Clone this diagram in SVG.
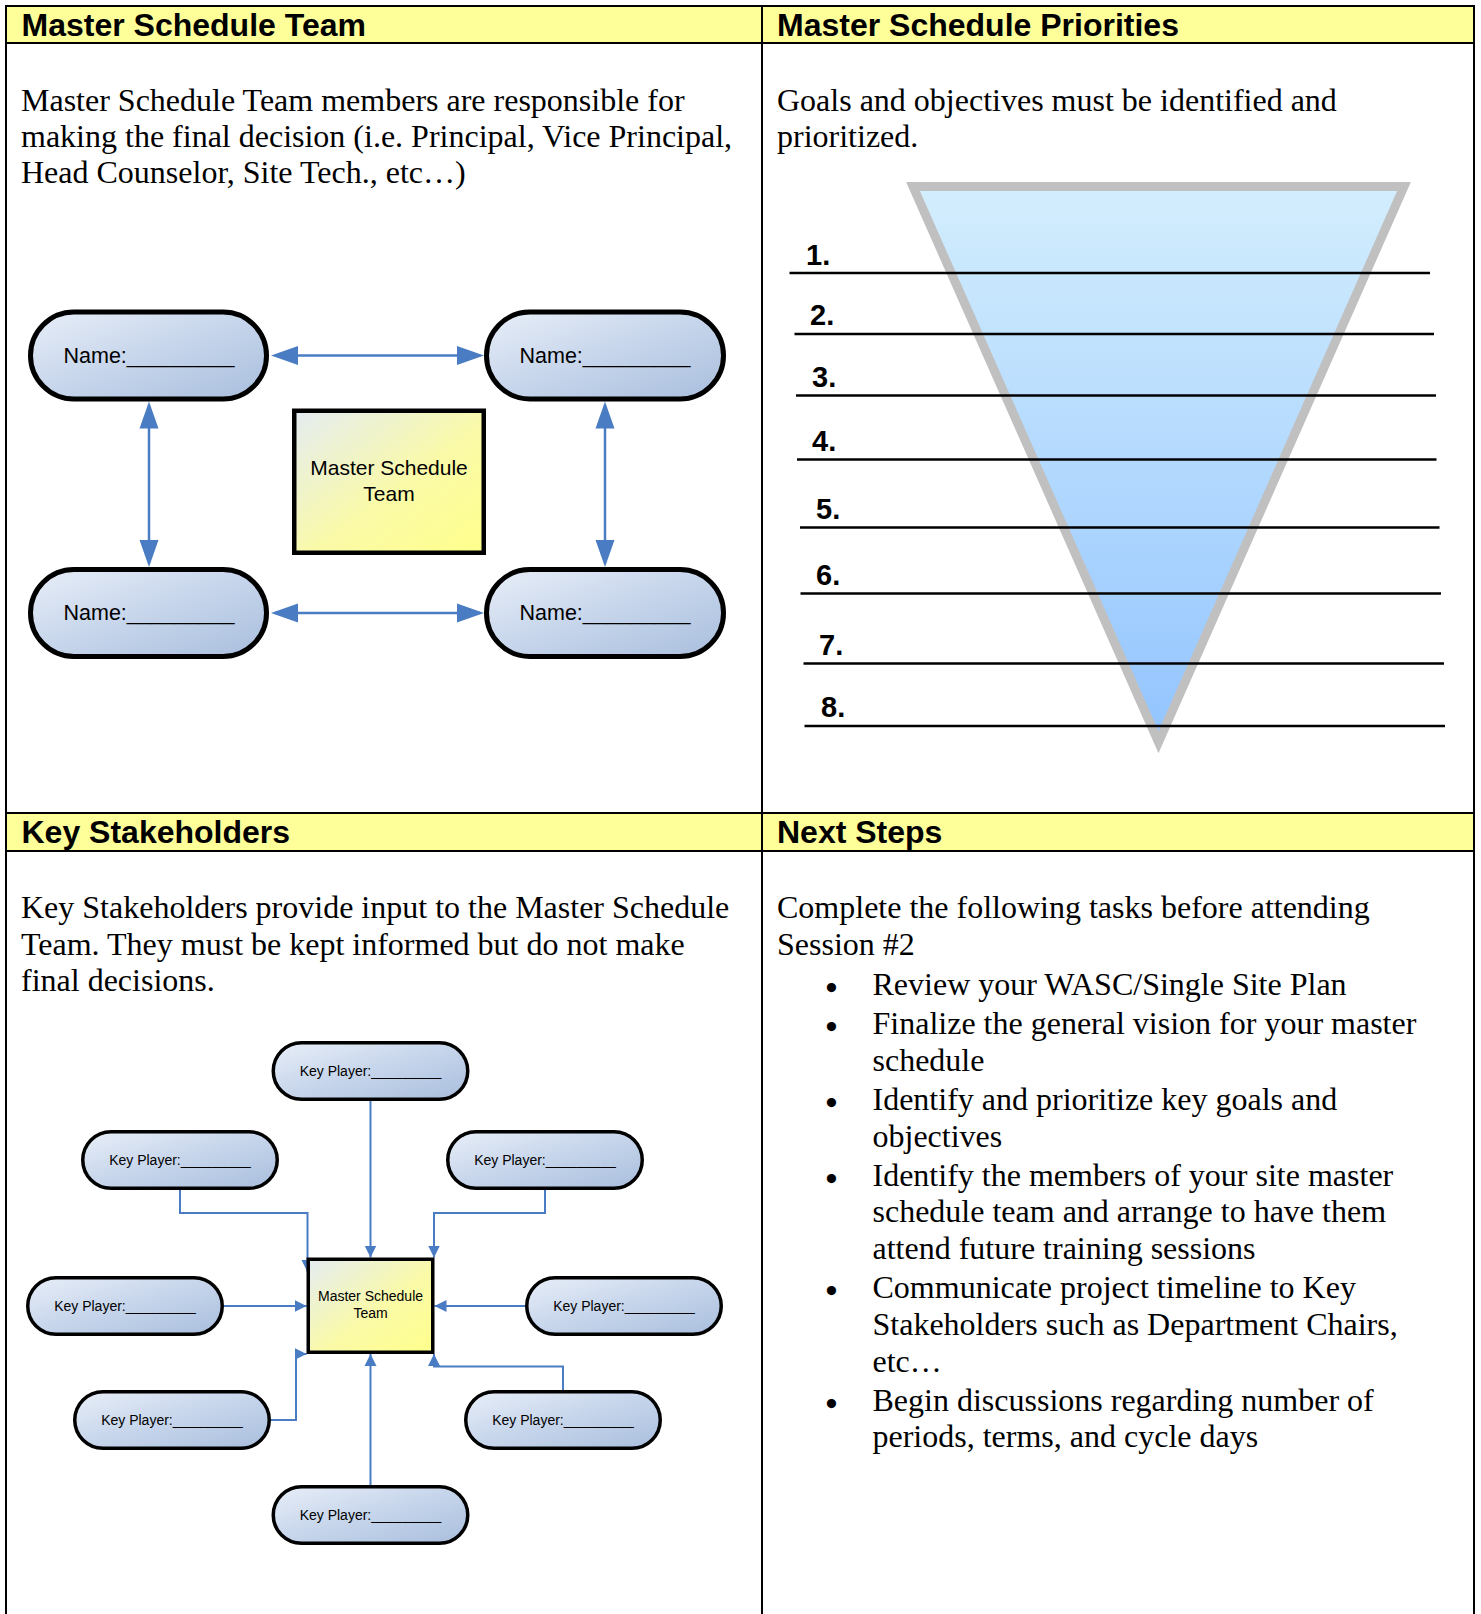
<svg xmlns="http://www.w3.org/2000/svg" width="1481" height="1614" viewBox="0 0 1481 1614">
<style>
.hdr{font-family:"Liberation Sans",Arial,sans-serif;font-weight:bold;font-size:32px;fill:#000}
.body{font-family:"Liberation Serif","Times New Roman",serif;font-size:32px;fill:#000}
.bul{font-family:"Liberation Serif","Times New Roman",serif;font-size:34px;font-weight:bold;fill:#000;text-anchor:middle}
.num{font-family:"Liberation Sans",Arial,sans-serif;font-weight:bold;font-size:29px;fill:#000}
.name{font-family:"Liberation Sans",Arial,sans-serif;font-size:21.5px;fill:#000;text-anchor:middle}
.kp{font-family:"Liberation Sans",Arial,sans-serif;font-size:14px;fill:#000;text-anchor:middle}
.boxt{font-family:"Liberation Sans",Arial,sans-serif;font-size:21px;fill:#000;text-anchor:middle}
.boxs{font-family:"Liberation Sans",Arial,sans-serif;font-size:14px;fill:#000;text-anchor:middle}
.pill{fill:url(#pillGrad);stroke:#000;stroke-width:5}
.kpill{fill:url(#pillGrad);stroke:#000;stroke-width:3.5}
.box{fill:url(#boxGrad);stroke:#000;stroke-width:4.5}
.kbox{fill:url(#boxGrad);stroke:#000;stroke-width:3.5}
.grid{stroke:#000;stroke-width:2;fill:none}
.big{stroke:#4a7cc3;stroke-width:2.5;fill:none;marker-start:url(#bigArrow);marker-end:url(#bigArrow)}
.sm{stroke:#4a7cc3;stroke-width:2;fill:none;marker-end:url(#smallArrow)}
.rule{stroke:#000;stroke-width:2.5}
</style>
<defs>
<linearGradient id="pillGrad" x1="0" y1="0" x2="1" y2="1">
<stop offset="0" stop-color="#e8eef8"/>
<stop offset="0.5" stop-color="#c6d5eb"/>
<stop offset="1" stop-color="#a9bedd"/>
</linearGradient>
<linearGradient id="boxGrad" x1="0" y1="0" x2="1" y2="1">
<stop offset="0" stop-color="#e4ecf2"/>
<stop offset="0.55" stop-color="#fafaa8"/>
<stop offset="1" stop-color="#ffff8c"/>
</linearGradient>
<linearGradient id="funnelGrad" gradientUnits="userSpaceOnUse" x1="0" y1="186" x2="0" y2="742">
<stop offset="0" stop-color="#d3eefd"/>
<stop offset="1" stop-color="#93c4ff"/>
</linearGradient>
<marker id="bigArrow" markerUnits="userSpaceOnUse" markerWidth="28" markerHeight="20" viewBox="0 0 28 20" refX="23" refY="10" orient="auto-start-reverse">
<path d="M0,0.5 L27,10 L0,19.5 z" fill="#4a7cc3"/>
</marker>
<marker id="smallArrow" markerUnits="userSpaceOnUse" markerWidth="13" markerHeight="13" viewBox="0 0 13 13" refX="12" refY="6.5" orient="auto">
<path d="M0,0.5 L12,6.5 L0,12.5 z" fill="#4a7cc3"/>
</marker>
</defs>
<rect width="1481" height="1614" fill="#fff"/>

<g id="frame">
<rect x="6" y="6" width="1468" height="37" fill="#ffff99"/>
<rect x="6" y="813" width="1468" height="38" fill="#ffff99"/>
<path class="grid" d="M6,1614 V6 H1474 V1614 M762,6 V1614 M6,43 H1474 M6,813 H1474 M6,851 H1474"/>
<text class="hdr" x="21.5" y="36">Master Schedule Team</text>
<text class="hdr" x="777" y="36">Master Schedule Priorities</text>
<text class="hdr" x="21.5" y="843">Key Stakeholders</text>
<text class="hdr" x="777" y="843">Next Steps</text>
</g>

<g id="team-text">
<text class="body" x="21" y="111">Master Schedule Team members are responsible for</text>
<text class="body" x="21" y="147">making the final decision (i.e. Principal, Vice Principal,</text>
<text class="body" x="21" y="183">Head Counselor, Site Tech., etc…)</text>
</g>

<g id="team-connectors">
<path class="big" d="M275,355.5 H480"/>
<path class="big" d="M275,613 H480"/>
<path class="big" d="M149,405.5 V563"/>
<path class="big" d="M605,405.5 V563"/>
</g>
<g id="name-tl"><rect class="pill" x="30.5" y="312" width="236" height="87" rx="43.5"/><text class="name" x="149" y="362.5">Name:_________</text></g>
<g id="name-tr"><rect class="pill" x="486.5" y="312" width="237" height="87" rx="43.5"/><text class="name" x="605" y="362.5">Name:_________</text></g>
<g id="name-bl"><rect class="pill" x="30.5" y="569.5" width="236" height="87" rx="43.5"/><text class="name" x="149" y="620">Name:_________</text></g>
<g id="name-br"><rect class="pill" x="486.5" y="569.5" width="237" height="87" rx="43.5"/><text class="name" x="605" y="620">Name:_________</text></g>
<g id="team-box"><rect class="box" x="294.25" y="410.75" width="189.5" height="142"/><text class="boxt" x="389" y="475">Master Schedule</text><text class="boxt" x="389" y="501">Team</text></g>

<g id="priorities">
<text class="body" x="777" y="111">Goals and objectives must be identified and</text>
<text class="body" x="777" y="147">prioritized.</text>
<path d="M913,186.5 L1404,186.5 L1158.5,742 Z" fill="url(#funnelGrad)" stroke="#c0c0c0" stroke-width="9"/>
<line class="rule" x1="789.5" y1="273" x2="1430" y2="273"/>
<line class="rule" x1="794.5" y1="334" x2="1434" y2="334"/>
<line class="rule" x1="796" y1="395.5" x2="1436" y2="395.5"/>
<line class="rule" x1="797" y1="459.5" x2="1436.5" y2="459.5"/>
<line class="rule" x1="800" y1="527.5" x2="1439.5" y2="527.5"/>
<line class="rule" x1="800.5" y1="593.5" x2="1441" y2="593.5"/>
<line class="rule" x1="803.5" y1="663.5" x2="1444" y2="663.5"/>
<line class="rule" x1="804.5" y1="726" x2="1445" y2="726"/>
<text class="num" x="806" y="265">1.</text>
<text class="num" x="810" y="325">2.</text>
<text class="num" x="812" y="387">3.</text>
<text class="num" x="812" y="451">4.</text>
<text class="num" x="816" y="519">5.</text>
<text class="num" x="816" y="585">6.</text>
<text class="num" x="819" y="655">7.</text>
<text class="num" x="821" y="717">8.</text>
</g>

<g id="stake-text">
<text class="body" x="21" y="918">Key Stakeholders provide input to the Master Schedule</text>
<text class="body" x="21" y="954.5">Team. They must be kept informed but do not make</text>
<text class="body" x="21" y="991">final decisions.</text>
</g>

<g id="stake-connectors">
<path class="sm" d="M370.5,1101 V1257.5"/>
<path class="sm" d="M180,1190 V1213 H307.5 V1272"/>
<path class="sm" d="M545,1190 V1213 H434 V1257.5"/>
<path class="sm" d="M224,1306 H306.5"/>
<path class="sm" d="M525,1306 H434.5"/>
<path class="sm" d="M271,1420 H296 V1354 H306.5"/>
<path class="sm" d="M563,1390 V1366.5 H434 V1354"/>
<path class="sm" d="M370.5,1485 V1354"/>
</g>
<g id="kp-top"><rect class="kpill" x="273.25" y="1042.75" width="194.5" height="56.5" rx="28.25"/><text class="kp" x="370.5" y="1076">Key Player:_________</text></g>
<g id="kp-ul"><rect class="kpill" x="82.75" y="1131.75" width="194.5" height="56.5" rx="28.25"/><text class="kp" x="180" y="1165">Key Player:_________</text></g>
<g id="kp-ur"><rect class="kpill" x="447.75" y="1131.75" width="194.5" height="56.5" rx="28.25"/><text class="kp" x="545" y="1165">Key Player:_________</text></g>
<g id="kp-ml"><rect class="kpill" x="27.75" y="1277.75" width="194.5" height="56.5" rx="28.25"/><text class="kp" x="125" y="1311">Key Player:_________</text></g>
<g id="kp-mr"><rect class="kpill" x="526.75" y="1277.75" width="194.5" height="56.5" rx="28.25"/><text class="kp" x="624" y="1311">Key Player:_________</text></g>
<g id="kp-ll"><rect class="kpill" x="74.75" y="1391.75" width="194.5" height="56.5" rx="28.25"/><text class="kp" x="172" y="1425">Key Player:_________</text></g>
<g id="kp-lr"><rect class="kpill" x="465.75" y="1391.75" width="194.5" height="56.5" rx="28.25"/><text class="kp" x="563" y="1425">Key Player:_________</text></g>
<g id="kp-bottom"><rect class="kpill" x="273.25" y="1486.75" width="194.5" height="56.5" rx="28.25"/><text class="kp" x="370.5" y="1520">Key Player:_________</text></g>
<g id="stake-box"><rect class="kbox" x="308.25" y="1259.25" width="124.5" height="93"/><text class="boxs" x="370.5" y="1301">Master Schedule</text><text class="boxs" x="370.5" y="1317.5">Team</text></g>

<g id="next-steps">
<text class="body" x="777" y="918">Complete the following tasks before attending</text>
<text class="body" x="777" y="954.5">Session #2</text>
<text class="bul" x="831.5" y="998.5">•</text>
<text class="body" x="872.5" y="994.5">Review your WASC/Single Site Plan</text>
<text class="bul" x="831.5" y="1037.5">•</text>
<text class="body" x="872.5" y="1033.5">Finalize the general vision for your master</text>
<text class="body" x="872.5" y="1070.5">schedule</text>
<text class="bul" x="831.5" y="1113.5">•</text>
<text class="body" x="872.5" y="1109.5">Identify and prioritize key goals and</text>
<text class="body" x="872.5" y="1146.5">objectives</text>
<text class="bul" x="831.5" y="1189.5">•</text>
<text class="body" x="872.5" y="1185.5">Identify the members of your site master</text>
<text class="body" x="872.5" y="1221.5">schedule team and arrange to have them</text>
<text class="body" x="872.5" y="1258.5">attend future training sessions</text>
<text class="bul" x="831.5" y="1301.5">•</text>
<text class="body" x="872.5" y="1297.5">Communicate project timeline to Key</text>
<text class="body" x="872.5" y="1334.5">Stakeholders such as Department Chairs,</text>
<text class="body" x="872.5" y="1371.5">etc…</text>
<text class="bul" x="831.5" y="1414.5">•</text>
<text class="body" x="872.5" y="1410.5">Begin discussions regarding number of</text>
<text class="body" x="872.5" y="1447">periods, terms, and cycle days</text>
</g>
</svg>
